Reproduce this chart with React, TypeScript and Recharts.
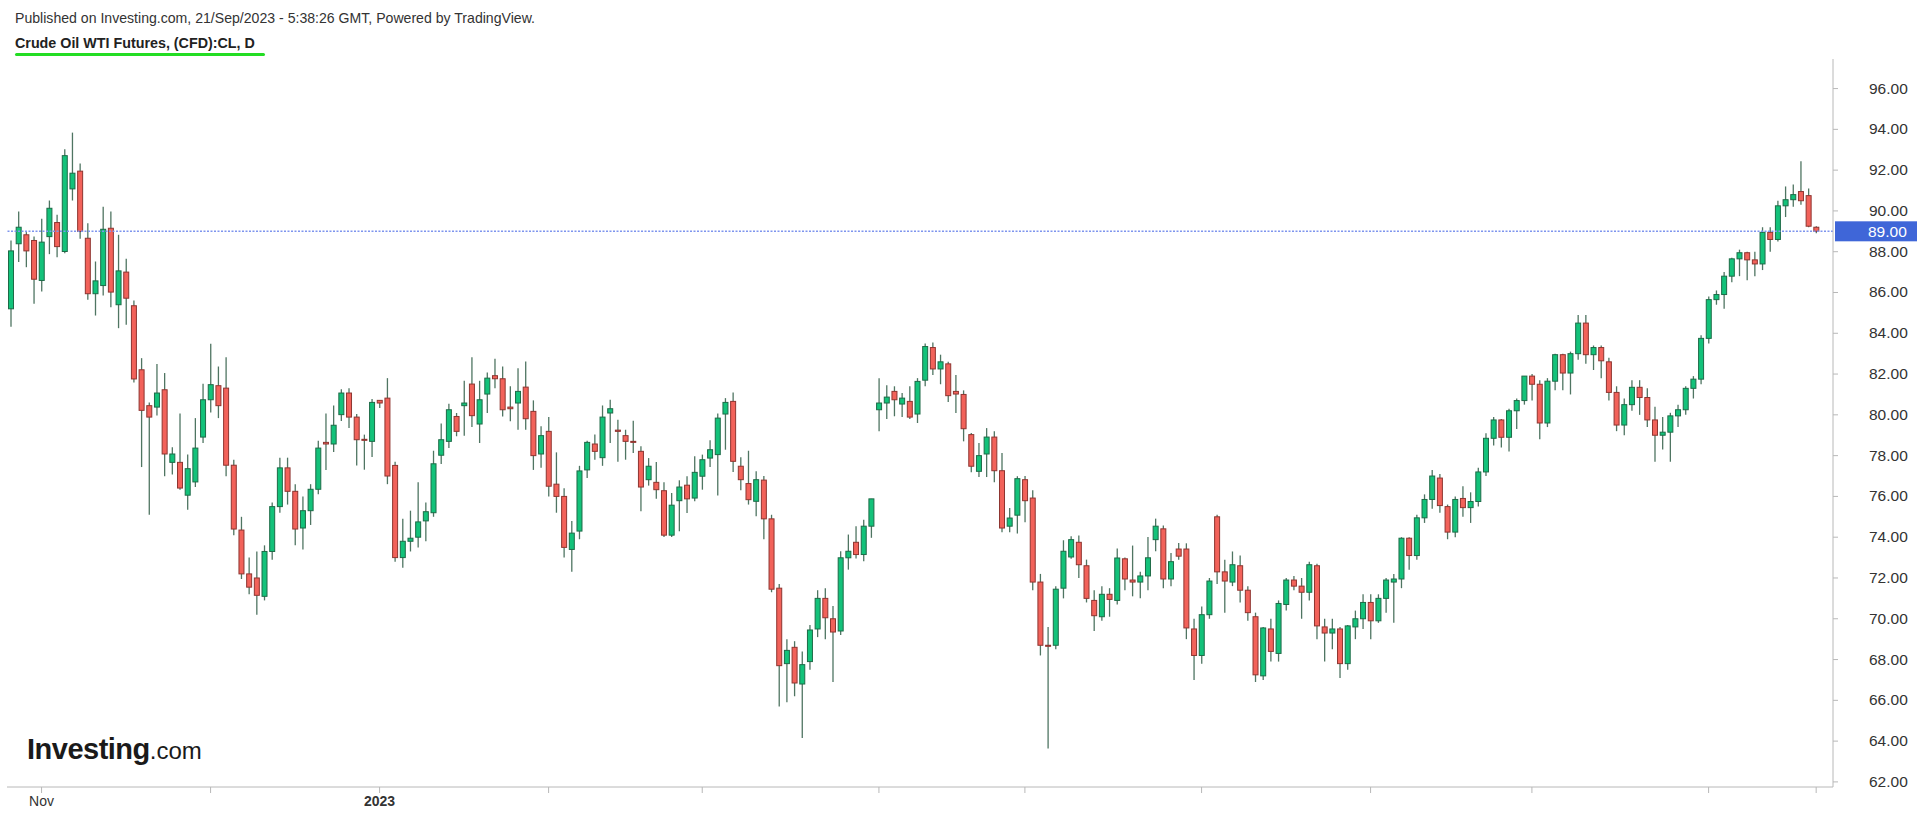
import React from 'react';
import { ComposedChart, Bar, XAxis, YAxis, ReferenceLine } from 'recharts';

// daily candles, 26 Oct 2022 .. 21 Sep 2023 (CFD, includes holiday sessions)
const opens = [
  85.2, 88.39, 88.83, 88.55, 86.59, 88.74, 89.43, 88.01, 91.08, 91.95,
  88.66, 85.94, 86.34, 89.15, 85.4, 87.0, 85.35, 82.21, 80.45, 80.38,
  81.23, 77.67, 77.67, 76.06, 76.71, 78.91, 80.74, 81.43, 81.31, 77.53,
  74.35, 72.2, 72.0, 71.1, 73.3, 75.5, 77.4, 76.25, 74.45, 75.3,
  76.35, 78.65, 78.57, 80.01, 81.07, 79.89, 78.8, 78.7, 80.71, 80.82,
  77.52, 73.0, 73.8, 74.0, 74.8, 75.2, 78.02, 78.7, 79.92, 80.45,
  81.51, 79.55, 81.02, 81.92, 81.77, 80.38, 80.58, 81.36, 80.17, 78.08,
  79.19, 76.6, 76.0, 73.4, 74.3, 77.3, 78.57, 77.9, 80.09, 79.25,
  78.98, 78.7, 78.21, 76.82, 76.69, 76.28, 74.1, 75.79, 76.55, 75.92,
  76.99, 77.88, 78.05, 80.04, 80.66, 77.48, 76.63, 75.76, 76.8, 74.9,
  71.5, 67.8, 68.6, 66.8, 67.9, 69.5, 71.0, 70.0, 69.4, 72.99,
  73.75, 73.15, 74.54, 80.25, 80.58, 81.15, 80.53, 80.66, 80.04, 81.7,
  83.3, 82.25, 82.5, 81.15, 81.0, 79.03, 77.23, 78.08, 78.91, 77.26,
  74.54, 75.08, 76.82, 75.92, 71.8, 68.7, 68.7, 71.5, 73.03, 73.75,
  72.6, 70.9, 70.1, 71.2, 70.9, 72.94, 71.9, 71.8, 72.1, 73.88,
  74.41, 71.95, 73.42, 73.42, 69.5, 68.2, 70.2, 75.0, 72.3, 71.8,
  72.6, 71.4, 70.1, 67.2, 69.5, 68.3, 70.7, 71.9, 71.6, 71.3,
  72.6, 69.6, 69.3, 69.5, 67.8, 69.6, 70.0, 70.8, 69.9, 71.0,
  71.8, 71.95, 73.95, 73.1, 74.95, 75.85, 76.9, 75.5, 74.25, 75.9,
  75.45, 75.75, 77.2, 78.85, 79.75, 78.9, 80.2, 80.7, 81.9, 81.5,
  79.6, 81.65, 82.95, 82.05, 83.0, 84.5, 82.95, 83.3, 82.6, 81.1,
  79.5, 80.5, 81.35, 80.85, 79.75, 79.0, 79.15, 79.95, 80.25, 81.3,
  81.75, 83.75, 85.65, 85.9, 86.8, 87.65, 87.95, 87.6, 87.4, 88.95,
  88.6, 90.25, 90.55, 90.95, 90.75, 89.2,
];

const highs = [
  88.55, 89.97, 88.96, 88.74, 89.61, 90.51, 89.81, 93.02, 93.84, 92.32,
  89.4, 87.52, 90.21, 89.97, 88.83, 87.65, 85.61, 82.78, 80.6, 82.49,
  82.05, 78.41, 80.06, 78.05, 79.84, 81.53, 83.49, 82.37, 82.83, 77.8,
  75.0, 73.0, 73.3, 73.6, 75.7, 77.9, 77.9, 76.6, 76.0, 76.6,
  78.73, 80.06, 80.46, 81.26, 81.31, 80.04, 79.03, 80.78, 80.71, 81.8,
  77.7, 74.9, 75.3, 76.7, 75.7, 78.24, 79.57, 80.55, 80.09, 81.67,
  82.83, 81.67, 82.08, 82.75, 82.37, 81.4, 82.29, 82.62, 80.71, 79.44,
  79.89, 78.16, 76.4, 74.8, 77.5, 78.73, 79.03, 80.46, 80.74, 79.76,
  79.27, 79.71, 78.46, 77.88, 77.69, 76.69, 76.17, 76.79, 76.99, 77.97,
  78.05, 78.75, 80.06, 80.82, 81.1, 77.92, 78.24, 77.23, 77.0, 75.1,
  71.7, 69.0, 68.9, 68.4, 69.7, 71.4, 71.5, 70.62, 73.31, 74.13,
  74.54, 74.86, 75.88, 81.8, 81.45, 81.4, 81.07, 81.4, 81.8, 83.5,
  83.55, 82.95, 82.6, 81.95, 81.2, 79.11, 78.62, 79.35, 79.19, 78.13,
  75.43, 76.99, 77.0, 76.3, 72.2, 69.6, 71.6, 73.85, 74.05, 74.08,
  72.9, 71.4, 71.6, 71.5, 73.44, 73.0, 73.59, 72.3, 74.01, 74.91,
  74.57, 73.23, 73.72, 73.7, 70.0, 70.6, 72.0, 75.1, 72.9, 73.3,
  73.1, 71.6, 70.3, 69.6, 70.0, 70.9, 72.0, 72.1, 72.0, 72.8,
  72.7, 70.0, 70.0, 69.6, 69.7, 70.4, 71.2, 71.2, 71.2, 72.0,
  72.2, 74.0, 74.0, 75.1, 76.1, 77.3, 77.1, 75.6, 76.0, 76.5,
  76.2, 77.4, 79.1, 79.9, 79.8, 80.3, 80.8, 81.9, 82.0, 81.7,
  81.8, 83.0, 83.0, 83.1, 84.9, 84.9, 83.4, 83.4, 82.8, 81.4,
  80.8, 81.7, 81.7, 81.3, 80.4, 79.9, 80.1, 80.5, 81.4, 81.9,
  83.9, 85.8, 86.1, 87.0, 87.7, 88.1, 88.0, 88.0, 89.2, 89.2,
  90.5, 91.2, 91.3, 92.43, 91.1, 89.25,
];

const lows = [
  84.32, 87.49, 87.24, 85.45, 86.05, 87.88, 87.73, 87.93, 90.51, 88.63,
  85.64, 84.87, 85.85, 85.28, 84.25, 84.42, 81.59, 77.44, 75.1, 79.97,
  76.99, 77.07, 76.33, 75.35, 76.46, 78.62, 80.12, 79.84, 76.99, 74.1,
  71.95, 71.2, 70.2, 70.9, 72.9, 75.2, 75.6, 73.6, 73.4, 74.6,
  76.1, 77.3, 78.18, 79.7, 79.35, 77.52, 77.31, 77.93, 80.33, 76.6,
  72.8, 72.5, 73.3, 73.5, 73.8, 75.0, 77.59, 78.37, 78.95, 78.98,
  79.4, 78.62, 80.09, 81.31, 79.92, 79.68, 79.27, 79.27, 77.3, 77.4,
  76.0, 75.2, 73.0, 72.3, 73.9, 76.9, 77.8, 77.5, 78.62, 77.7,
  77.8, 78.13, 75.27, 76.53, 75.89, 74.01, 74.01, 74.29, 75.19, 75.76,
  76.33, 77.44, 76.04, 78.29, 77.2, 76.3, 75.6, 75.03, 73.9, 71.3,
  65.7, 65.9, 66.2, 64.15, 67.5, 69.1, 69.0, 66.9, 69.2, 72.41,
  72.95, 72.82, 73.97, 79.19, 79.8, 79.93, 79.89, 79.8, 79.6, 81.4,
  81.95, 81.5, 80.63, 80.09, 78.7, 77.18, 76.95, 76.95, 76.69, 74.24,
  74.24, 74.18, 74.73, 71.4, 68.2, 63.64, 68.5, 71.0, 72.94, 72.0,
  70.8, 69.4, 69.9, 70.1, 70.7, 71.4, 71.1, 71.0, 71.4, 73.31,
  71.5, 71.6, 72.9, 69.0, 67.0, 67.8, 70.0, 71.7, 70.3, 71.6,
  70.8, 69.9, 66.9, 67.0, 67.9, 67.9, 70.4, 71.4, 70.0, 70.9,
  69.0, 67.9, 68.5, 67.1, 67.5, 69.0, 69.5, 69.0, 69.8, 70.3,
  69.8, 71.5, 72.4, 72.9, 74.7, 75.4, 75.2, 73.9, 74.0, 75.0,
  74.7, 75.5, 77.0, 78.5, 78.4, 78.2, 79.3, 80.5, 80.7, 78.8,
  79.4, 81.2, 81.2, 81.0, 82.7, 82.5, 82.2, 81.8, 80.7, 79.2,
  79.0, 80.2, 80.0, 79.4, 77.7, 78.3, 77.7, 79.4, 80.0, 80.8,
  81.5, 83.5, 85.4, 85.2, 86.5, 86.8, 86.6, 86.8, 87.1, 88.0,
  88.5, 89.7, 90.2, 90.3, 89.2, 88.9,
];

const closes = [
  88.04, 89.2, 88.04, 86.65, 88.47, 90.13, 88.25, 92.71, 91.85, 88.99,
  85.94, 86.57, 89.1, 86.02, 87.06, 85.72, 81.76, 80.22, 79.89, 81.07,
  78.08, 78.08, 76.41, 77.36, 78.37, 80.74, 81.48, 80.45, 77.53, 74.4,
  72.2, 71.55, 71.15, 73.3, 75.5, 77.4, 76.25, 74.4, 75.3, 76.35,
  78.37, 78.57, 79.49, 81.07, 79.89, 78.78, 78.75, 80.61, 80.58, 77.0,
  73.0, 73.8, 73.95, 74.75, 75.25, 77.6, 78.78, 80.25, 79.19, 80.58,
  79.96, 80.74, 81.8, 81.77, 80.25, 80.3, 81.15, 79.81, 78.0, 78.98,
  76.5, 76.0, 73.5, 74.2, 77.25, 78.65, 78.21, 79.89, 80.3, 79.19,
  78.7, 78.65, 76.46, 77.48, 76.33, 74.1, 75.57, 76.46, 75.88, 77.18,
  77.8, 78.29, 79.84, 80.61, 77.72, 76.82, 75.84, 76.82, 74.9, 71.45,
  67.7, 68.45, 66.85, 67.75, 69.45, 71.0, 70.05, 69.35, 72.99, 73.31,
  73.15, 74.54, 75.88, 80.58, 80.87, 80.74, 80.82, 79.89, 81.64, 83.35,
  82.25, 82.6, 80.94, 81.02, 79.32, 77.48, 78.0, 78.91, 77.26, 74.45,
  74.94, 76.87, 75.79, 71.8, 68.7, 68.65, 71.45, 73.31, 73.88, 72.65,
  71.0, 70.15, 71.2, 70.95, 72.98, 71.95, 71.8, 72.1, 72.99, 74.54,
  71.95, 72.8, 73.07, 69.55, 68.2, 70.2, 71.85, 72.3, 71.85, 72.65,
  71.4, 70.3, 67.25, 69.55, 68.4, 70.75, 71.9, 71.6, 71.3, 72.65,
  69.65, 69.3, 69.5, 67.8, 69.65, 70.0, 70.8, 69.9, 71.0, 71.9,
  71.95, 73.95, 73.1, 74.95, 75.85, 77.0, 75.55, 74.25, 75.85, 75.45,
  75.75, 77.2, 78.85, 79.75, 78.9, 80.2, 80.7, 81.9, 81.5, 79.6,
  81.65, 82.95, 82.05, 83.0, 84.5, 82.95, 83.3, 82.65, 81.1, 79.5,
  80.5, 81.35, 80.85, 79.75, 79.0, 79.15, 79.95, 80.25, 81.3, 81.75,
  83.75, 85.65, 85.9, 86.8, 87.65, 87.95, 87.6, 87.4, 88.95, 88.6,
  90.25, 90.55, 90.8, 90.5, 89.25, 89.0,
];

// bar index of each month start; only two of them carry a label
const monthTicks = [4, 26, 48, 70, 90, 113, 132, 155, 177, 198, 221, 235];
const monthLabels: Record<number, string> = { 4: 'Nov', 48: '2023' };
const priceTicks = [62, 64, 66, 68, 70, 72, 74, 76, 78, 80, 82, 84, 86, 88, 90, 92, 94, 96];
const lastPrice = 89.0;

const FONT = '"Liberation Sans", Arial, sans-serif';
const UP = '#13c27a';
const UP_EDGE = '#1d6b47';
const DOWN = '#f2625a';
const DOWN_EDGE = '#8e3530';
const WICK = '#4f7562';

const data = opens.map((o, i) => ({
  i,
  o,
  h: highs[i],
  l: lows[i],
  c: closes[i],
  range: [lows[i], highs[i]],
}));

const Candle = (props: any) => {
  const { x, y, width, height, payload } = props;
  const { o, h, l, c } = payload;
  const top = Math.min(y, y + height);
  const bottom = Math.max(y, y + height);
  const k = h - l > 0 ? (bottom - top) / (h - l) : 0;
  const cx = x + width / 2;
  const up = c >= o;
  const bTop = top + (h - Math.max(o, c)) * k;
  let bH = Math.abs(o - c) * k;
  if (bH < 1) bH = 1;
  const bw = 5;
  return (
    <g>
      <line x1={cx} x2={cx} y1={top} y2={bottom} stroke={WICK} strokeWidth={1.3} />
      <rect
        x={cx - bw / 2}
        y={bTop}
        width={bw}
        height={bH}
        fill={up ? UP : DOWN}
        stroke={up ? UP_EDGE : DOWN_EDGE}
        strokeWidth={1}
      />
    </g>
  );
};

const MonthTick = (props: any) => {
  const { x, y, payload } = props;
  const label = monthLabels[payload.value];
  if (!label) return null;
  return (
    <text
      x={x}
      y={y + 11}
      textAnchor="middle"
      fontFamily={FONT}
      fontSize={14}
      fontWeight={label === '2023' ? 'bold' : 'normal'}
      fill="#333"
    >
      {label}
    </text>
  );
};

const PriceTick = (props: any) => {
  const { x, y, payload } = props;
  return (
    <text x={x} y={y + 5} textAnchor="start" fontFamily={FONT} fontSize={15.5} fill="#333">
      {payload.value.toFixed(2)}
    </text>
  );
};

const PriceTag = (props: any) => {
  const vb = props.viewBox || {};
  const left = vb.x + vb.width + 2;
  return (
    <g>
      <rect x={left} y={vb.y - 10} width={82} height={20} fill="#3f66d8" />
      <text
        x={left + 33}
        y={vb.y + 5.5}
        textAnchor="start"
        fontFamily={FONT}
        fontSize={15.5}
        fill="#fff"
      >
        {lastPrice.toFixed(2)}
      </text>
    </g>
  );
};

export default function App() {
  return (
    <div
      style={{
        position: 'fixed',
        left: 0,
        top: 0,
        width: 1918,
        height: 813,
        background: '#fff',
        fontFamily: FONT,
      }}
    >
      <div style={{ position: 'absolute', left: 15, top: 10, fontSize: 14.1, color: '#333' }}>
        Published on Investing.com, 21/Sep/2023 - 5:38:26 GMT, Powered by TradingView.
      </div>
      <div
        style={{
          position: 'absolute',
          left: 15,
          top: 35,
          fontSize: 14.3,
          fontWeight: 'bold',
          color: '#222',
        }}
      >
        Crude Oil WTI Futures, (CFD):CL, D
      </div>
      <div
        style={{
          position: 'absolute',
          left: 15,
          top: 53,
          width: 250,
          height: 3,
          borderRadius: 2,
          background: '#23dd23',
        }}
      />
      <ComposedChart
        width={1918}
        height={813}
        data={data}
        margin={{ top: 59, right: 0, bottom: 0, left: 7 }}
        barCategoryGap={0}
      >
        <XAxis
          dataKey="i"
          height={26}
          ticks={monthTicks}
          interval={0}
          tick={<MonthTick />}
          tickSize={6}
          padding={{ left: 0, right: 13 }}
          axisLine={{ stroke: '#b8b8b8' }}
          tickLine={{ stroke: '#b8b8b8' }}
        />
        <YAxis
          orientation="right"
          width={85}
          domain={[61.75, 97.45]}
          ticks={priceTicks}
          interval={0}
          tick={<PriceTick />}
          tickSize={5}
          tickMargin={31}
          axisLine={{ stroke: '#b8b8b8' }}
          tickLine={{ stroke: '#b8b8b8' }}
          allowDataOverflow
        />
        <ReferenceLine
          y={lastPrice}
          stroke="#7f95ee"
          strokeWidth={1.5}
          strokeDasharray="2 1.5"
          label={<PriceTag />}
          ifOverflow="visible"
        />
        <Bar dataKey="range" shape={<Candle />} isAnimationActive={false} />
      </ComposedChart>
      <div
        style={{
          position: 'absolute',
          left: 27,
          top: 733,
          color: '#1a1a1a',
          whiteSpace: 'nowrap',
        }}
      >
        <span style={{ fontSize: 29, fontWeight: 'bold', letterSpacing: -0.5 }}>Investing</span>
        <span style={{ fontSize: 24 }}>.com</span>
      </div>
    </div>
  );
}
